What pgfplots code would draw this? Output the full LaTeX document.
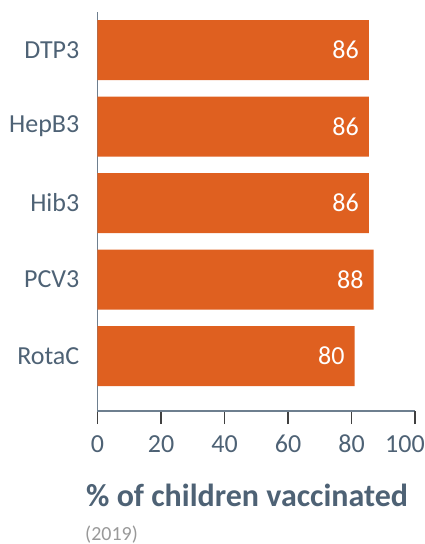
\documentclass[border=0pt]{standalone}
\usepackage{pgfplots}
\usepackage{pgfplotstable}
\pgfplotsset{compat=1.18}
\usepackage{fontspec}
\setmainfont{Carlito}
\definecolor{barc}{HTML}{DF6020}
\definecolor{lab}{HTML}{4E6275}
\definecolor{axl}{HTML}{6E7F8F}
\definecolor{tk}{HTML}{404040}
\pgfplotstableread{
y x lab
0 81 80
1 87 88
2 85.5 86
3 85.5 86
4 85.5 86
}\data
\begin{document}
\begin{tikzpicture}
\begin{axis}[name=ax, scale only axis, width=317.5pt, height=399pt,
  xbar, bar width=60pt, xmin=0, xmax=100, ymin=-0.719, ymax=4.497,
  axis lines=left, axis line style={-, draw=axl, line width=1.2pt},
  ytick={0,1,2,3,4}, yticklabels={RotaC,PCV3,Hib3,HepB3,DTP3},
  xtick={0,20,40,60,80},
  extra x ticks={100},
  extra x tick style={xticklabel style={xshift=-10pt}},
  tick align=outside, major tick length=13pt,
  tick style={draw=tk, line width=1.2pt},
  ytick style={xshift=13pt},
  ticklabel style={font=\fontsize{26}{28}\selectfont, text=lab, inner sep=0pt},
  yticklabel style={anchor=east, xshift=-5pt},
  xticklabel style={anchor=base, yshift=-28pt},
  clip=false,
  /pgf/number format/assume math mode=true,
]
\addplot[fill=barc, draw=none, nodes near coords, point meta=explicit symbolic,
  every node near coord/.append style={anchor=east, xshift=-10pt, text=white, font=\fontsize{26}{28}\selectfont, inner sep=0pt}]
  table[x=x, y=y, meta=lab]{\data};
\end{axis}
\node[anchor=base west, inner sep=0pt, font=\bfseries\fontsize{32}{35}\selectfont, text=lab] at ([shift={(-11.5pt,-95pt)}]ax.south west) {\% of children vaccinated};
\node[anchor=base west, inner sep=0pt, font=\fontsize{20}{22}\selectfont, text=black!40] at ([shift={(-12.5pt,-129pt)}]ax.south west) {(2019)};
\pgfresetboundingbox
\path[use as bounding box] ([shift={(-97.5pt,-133pt)}]ax.south west) rectangle ([shift={(10pt,12pt)}]ax.north east);
\end{tikzpicture}
\end{document}
